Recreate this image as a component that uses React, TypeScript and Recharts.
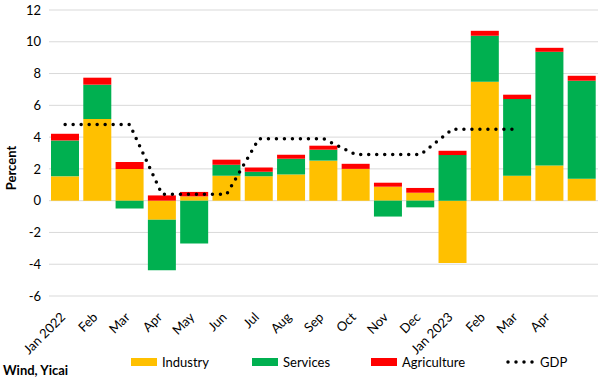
import React from 'react';
import { ComposedChart, Bar, Line, XAxis, YAxis, CartesianGrid, Legend } from 'recharts';

const months = ['Jan 2022', 'Feb', 'Mar', 'Apr', 'May', 'Jun', 'Jul', 'Aug', 'Sep', 'Oct', 'Nov', 'Dec', 'Jan 2023', 'Feb', 'Mar', 'Apr', ''];
const industry = [1.53, 5.14, 2.0, -1.2, 0.27, 1.57, 1.53, 1.65, 2.52, 2.0, 0.88, 0.5, -3.92, 7.48, 1.57, 2.22, 1.38];
const services = [2.26, 2.16, -0.5, -3.18, -2.7, 0.69, 0.29, 0.99, 0.69, 0, -1.0, -0.42, 2.87, 2.9, 4.83, 7.15, 6.17];
const agriculture = [0.42, 0.44, 0.44, 0.33, 0.28, 0.32, 0.26, 0.25, 0.25, 0.32, 0.25, 0.3, 0.27, 0.31, 0.27, 0.25, 0.31];
const gdp: (number | null)[] = [4.8, 4.8, 4.8, 0.4, 0.4, 0.4, 3.9, 3.9, 3.9, 2.9, 2.9, 2.9, 4.5, 4.5, 4.5, null, null];
const yTicks = [-6, -4, -2, 0, 2, 4, 6, 8, 10, 12];

const barSeries = [
  { key: 'industry', name: 'Industry', color: '#FFC000' },
  { key: 'services', name: 'Services', color: '#00B050' },
  { key: 'agriculture', name: 'Agriculture', color: '#FF0000' },
];
const lineSeries = { key: 'gdp', name: 'GDP', color: '#000000' };

const data = months.map((m, i) => ({
  idx: i,
  month: m,
  industry: industry[i],
  services: services[i],
  agriculture: agriculture[i],
  gdp: gdp[i],
}));

const FONT = 'Lato, "Liberation Sans", sans-serif';

const XTick = (props: any) => {
  const { x, y, payload } = props;
  const label = months[payload.value] ?? '';
  const ax = x + 1;
  const ay = y + 22;
  return (
    <text
      x={ax}
      y={ay}
      textAnchor="end"
      transform={`rotate(-45, ${ax}, ${ay})`}
      fontSize={13}
      fontFamily={FONT}
      fill="#000"
    >
      {label}
    </text>
  );
};

const legendLeft = [131, 252, 371, 506];

const LegendContent = () => (
  <div style={{ position: 'relative', width: 604, height: 20, fontFamily: FONT, fontSize: 13, color: '#000' }}>
    {barSeries.map((s, i) => (
      <div key={s.key} style={{ position: 'absolute', left: legendLeft[i], top: 0, height: 20, display: 'flex', alignItems: 'center', whiteSpace: 'nowrap' }}>
        <div style={{ width: 26, height: 8, background: s.color, marginRight: 5 }} />
        <span style={{ lineHeight: '20px' }}>{s.name}</span>
      </div>
    ))}
    <div style={{ position: 'absolute', left: legendLeft[3], top: 0, height: 20, display: 'flex', alignItems: 'center', whiteSpace: 'nowrap' }}>
      <svg width={30} height={20} style={{ marginRight: 4 }}>
        <line x1={2} y1={10} x2={28} y2={10} stroke={lineSeries.color} strokeWidth={3.5} strokeDasharray="0 8" strokeLinecap="round" />
      </svg>
      <span style={{ lineHeight: '20px' }}>{lineSeries.name}</span>
    </div>
  </div>
);

export default function App() {
  return (
    <div style={{ position: 'absolute', left: 0, top: 0, width: 604, height: 378, background: '#fff', fontFamily: FONT }}>
      <ComposedChart
        width={604}
        height={378}
        data={data}
        stackOffset="sign"
        margin={{ top: 10, right: 6, left: 9, bottom: 22 }}
        barSize={28}
      >
        <CartesianGrid vertical={false} stroke="#D9D9D9" strokeWidth={1} />
        <XAxis
          dataKey="idx"
          type="category"
          axisLine={false}
          tickLine={false}
          tickSize={0}
          tickMargin={0}
          interval={0}
          height={60}
          tick={<XTick />}
        />
        <YAxis
          domain={[-6, 12]}
          ticks={yTicks}
          axisLine={false}
          tickLine={false}
          width={40}
          interval={0}
          tick={{ fontSize: 13, fill: '#000', fontFamily: FONT }}
        />
        {barSeries.map((s) => (
          <Bar key={s.key} dataKey={s.key} name={s.name} stackId="a" fill={s.color} isAnimationActive={false} />
        ))}
        <Line
          dataKey={lineSeries.key}
          name={lineSeries.name}
          type="linear"
          stroke={lineSeries.color}
          strokeWidth={3.5}
          strokeDasharray="0 8"
          strokeLinecap="round"
          dot={false}
          activeDot={false}
          connectNulls={false}
          isAnimationActive={false}
        />
        <Legend
          layout="horizontal"
          verticalAlign="middle"
          align="center"
          content={<LegendContent />}
          wrapperStyle={{ position: 'absolute', left: 0, top: 352, width: 604, height: 20 }}
        />
      </ComposedChart>
      <div style={{ position: 'absolute', left: 11, top: 168, transform: 'translate(-50%, -50%) rotate(-90deg)', fontWeight: 'bold', fontSize: 13, whiteSpace: 'nowrap', color: '#000' }}>
        Percent
      </div>
      <div style={{ position: 'absolute', left: 3, top: 360, lineHeight: '20px', fontWeight: 'bold', fontSize: 13, whiteSpace: 'nowrap', color: '#000' }}>
        Wind, Yicai
      </div>
    </div>
  );
}
